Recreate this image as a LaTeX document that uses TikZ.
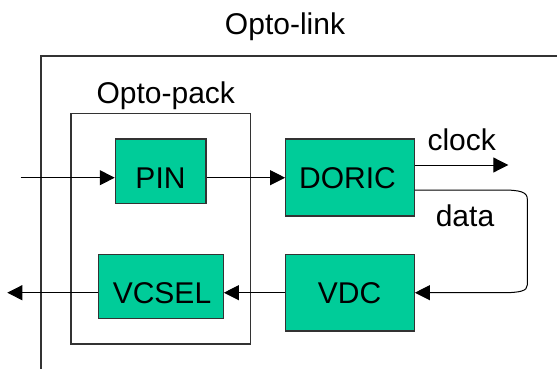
\documentclass[tikz,border=0pt]{standalone}
\usepackage{fontspec}
\setmainfont{Liberation Sans}
\usetikzlibrary{arrows.meta}
\definecolor{boxgreen}{HTML}{00CC99}
\definecolor{edgegray}{HTML}{333333}
\tikzset{
  blk/.style={draw=edgegray, line width=1.2pt, fill=boxgreen, inner sep=0pt},
  frame/.style={draw=edgegray, line width=1.2pt},
  txt/.style={anchor=base, inner sep=0pt, font=\fontsize{30}{36}\selectfont},
  conn/.style={line width=1pt, -{Triangle[length=15pt,width=15pt]}},
  wire/.style={line width=1pt}
}
\begin{document}
\begin{tikzpicture}[x=1pt,y=-1pt]
\useasboundingbox (0,0) rectangle (557,369);
% Opto-link frame
\draw[frame] (41,369) -- (41,56) -- (557,56);
\node[txt] (linklbl) at (285,35) {Opto-link};
% Opto-pack
\node[frame, minimum width=179.7pt, minimum height=230.7pt, inner sep=0pt] (pack) at (160.8,228.7) {};
\node[txt] (packlbl) at (165.8,103.3) {Opto-pack};
% blocks
\node[blk, minimum width=90.7pt, minimum height=64.3pt] (pin) at (160.7,171.2) {};
\node[blk, minimum width=128.6pt, minimum height=77pt] (doric) at (350,177.5) {};
\node[blk, minimum width=125pt, minimum height=64.4pt] (vcsel) at (160.8,286.5) {};
\node[blk, minimum width=128.6pt, minimum height=76.7pt] (vdc) at (350,292.7) {};
\node[txt] (pintxt) at (160.5,188.3) {PIN};
\node[txt] (dorictxt) at (347.5,188.3) {DORIC};
\node[txt] (vcseltxt) at (162,303.3) {VCSEL};
\node[txt] (vdctxt) at (349.5,303.3) {VDC};
\node[txt] (clocklbl) at (461.7,150) {clock};
\node[txt] (datalbl) at (465,226.7) {data};
% connectors
\coordinate (in) at (20.7,177.7);
\coordinate (clk) at (508.3,165);
\coordinate (out) at (7.3,292.7);
\draw[conn] (in) -- (in -| pin.west);
\draw[conn] (pin.east |- in) -- (doric.west |- in);
\draw[conn] (doric.east |- clk) -- (clk);
\draw[conn] (doric.east |- 0,190) -- (502.3,190)
  .. controls (520,190) and (527.3,192) .. (527.3,199) -- (527.3,285)
  .. controls (527.3,291) and (520,292.7) .. (502.3,292.7) -- (vdc.east);
\draw[conn] (vdc.west) -- (vcsel.east |- vdc.west);
\draw[conn] (vcsel.west |- vdc.west) -- (out);
\end{tikzpicture}
\end{document}
